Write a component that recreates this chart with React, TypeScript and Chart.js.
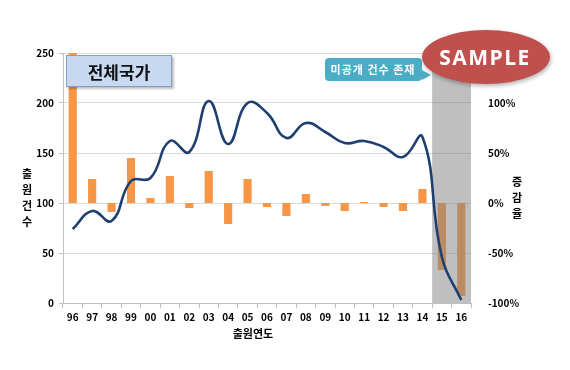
import React, { useEffect, useRef } from 'react';
import { Chart, registerables } from 'chart.js';

Chart.register(...registerables);

const years = ['96', '97', '98', '99', '00', '01', '02', '03', '04', '05', '06', '07', '08', '09', '10', '11', '12', '13', '14', '15', '16'];
const applications = [74, 92, 82, 122, 125, 162, 151, 202, 159, 200, 190, 165, 180, 171, 160, 162, 156, 146, 166, 46, 3];
const growthRates = [160, 24, -9, 45, 5, 27, -5, 32, -21, 24, -4, -13, 9, -3, -8, 1, -4, -8, 14, -67, -93];
const shadeFrom = '15';

const FONT = "'Noto Sans CJK KR', 'Noto Sans', sans-serif";

const shadePlugin = {
  id: 'shade',
  afterDatasetDraw(chart: any, args: any) {
    if (args.index !== 1) return;
    const { ctx, chartArea, scales } = chart;
    const i = years.indexOf(shadeFrom);
    const x0 = (scales.x.getPixelForValue(i - 1) + scales.x.getPixelForValue(i)) / 2;
    ctx.save();
    ctx.fillStyle = 'rgba(128,128,128,0.5)';
    ctx.fillRect(x0, chartArea.top, chartArea.right - x0, chartArea.bottom - chartArea.top);
    ctx.restore();
  },
};

const whiteBg = {
  id: 'whiteBg',
  beforeDraw(chart: any) {
    const { ctx, width, height } = chart;
    ctx.save();
    ctx.fillStyle = '#ffffff';
    ctx.fillRect(0, 0, width, height);
    ctx.restore();
  },
};

export default function App() {
  const ref = useRef<HTMLCanvasElement | null>(null);

  useEffect(() => {
    if (!ref.current) return;
    const tickFont = { family: FONT, size: 10, weight: 'bold' as const };
    const chart = new Chart(ref.current, {
      type: 'bar',
      data: {
        labels: years,
        datasets: [
          {
            type: 'line',
            label: '출원건수',
            data: applications,
            yAxisID: 'y',
            borderColor: '#1f3f70',
            borderWidth: 2.6,
            pointRadius: 0,
            tension: 0.45,
            order: 1,
          } as any,
          {
            type: 'bar',
            label: '증감율',
            data: growthRates,
            yAxisID: 'y1',
            backgroundColor: '#f79646',
            categoryPercentage: 1,
            barPercentage: 0.42,
            order: 2,
          },
        ],
      },
      options: {
        responsive: false,
        animation: false,
        devicePixelRatio: 1,
        layout: { padding: { top: 53, left: 0, right: 0, bottom: 0 } },
        plugins: { legend: { display: false }, tooltip: { enabled: false } },
        scales: {
          x: {
            offset: true,
            grid: { drawOnChartArea: false, drawTicks: true, tickLength: 5, color: '#bfbfbf', offset: true },
            border: { color: '#bfbfbf' },
            ticks: { font: tickFont, color: '#000', padding: 3, maxRotation: 0, autoSkip: false },
            afterFit(scale: any) { scale.height = 67; },
          },
          y: {
            position: 'left',
            min: 0,
            max: 250,
            ticks: { stepSize: 50, font: tickFont, color: '#000', padding: 5 },
            grid: { color: '#d9d9d9', tickLength: 4, tickColor: '#bfbfbf' },
            border: { color: '#bfbfbf' },
            afterFit(scale: any) { scale.width = 63; },
          },
          y1: {
            position: 'right',
            min: -100,
            max: 150,
            ticks: { stepSize: 50, font: tickFont, color: '#000', padding: 9, callback: (v: any) => v + '%' },
            grid: { display: false },
            border: { display: false },
            afterFit(scale: any) { scale.width = 99; },
          },
        },
      },
      plugins: [whiteBg, shadePlugin],
    });
    return () => chart.destroy();
  }, []);

  const stack = (chars: string[], left: number, top: number) => (
    <div style={{ position: 'absolute', left, top, width: 20, textAlign: 'center', fontFamily: FONT, fontWeight: 'bold', fontSize: 11, lineHeight: '16px', color: '#000' }}>
      {chars.map((c, i) => (<div key={i}>{c}</div>))}
    </div>
  );

  return (
    <div style={{ position: 'absolute', left: 0, top: 0, width: 570, height: 370, background: '#fff' }}>
      <canvas ref={ref} width={570} height={370} style={{ position: 'absolute', left: 0, top: 0 }} />
      <div style={{ position: 'absolute', left: 66, top: 55, width: 104, height: 30, background: '#c6d9f1', border: '1px solid #7f9fc8', boxShadow: '2px 2px 2px rgba(0,0,0,0.25)', display: 'flex', alignItems: 'center', justifyContent: 'center', fontFamily: FONT, fontWeight: 'bold', fontSize: 17, color: '#111' }}>
        전체국가
      </div>
      {stack(['출', '원', '건', '수'], 17, 165)}
      {stack(['증', '감', '율'], 507, 173)}
      <div style={{ position: 'absolute', left: 213, top: 325, width: 80, textAlign: 'center', fontFamily: FONT, fontWeight: 'bold', fontSize: 11, color: '#000' }}>출원연도</div>
      <svg width={570} height={370} style={{ position: 'absolute', left: 0, top: 0, pointerEvents: 'none' }}>
        <path d="M329 58 H418 Q422 58 422 62 V70 L431 75 L422 80 V77 Q422 81 418 81 H329 Q325 81 325 77 V62 Q325 58 329 58 Z" fill="#4bacc6" />
        <text x={373} y={73.5} textAnchor="middle" fill="#ffffff" fontFamily={FONT} fontWeight="bold" fontSize={11} letterSpacing={1}>미공개 건수 존재</text>
        <ellipse cx={486} cy={57} rx={64} ry={27} fill="#c0504d" style={{ filter: 'drop-shadow(1px 2px 2px rgba(0,0,0,0.3))' }} />
        <text x={485} y={65} textAnchor="middle" fill="#ffffff" fontFamily="'Open Sans', sans-serif" fontWeight="bold" fontSize={21} letterSpacing={1.5}>SAMPLE</text>
      </svg>
    </div>
  );
}
